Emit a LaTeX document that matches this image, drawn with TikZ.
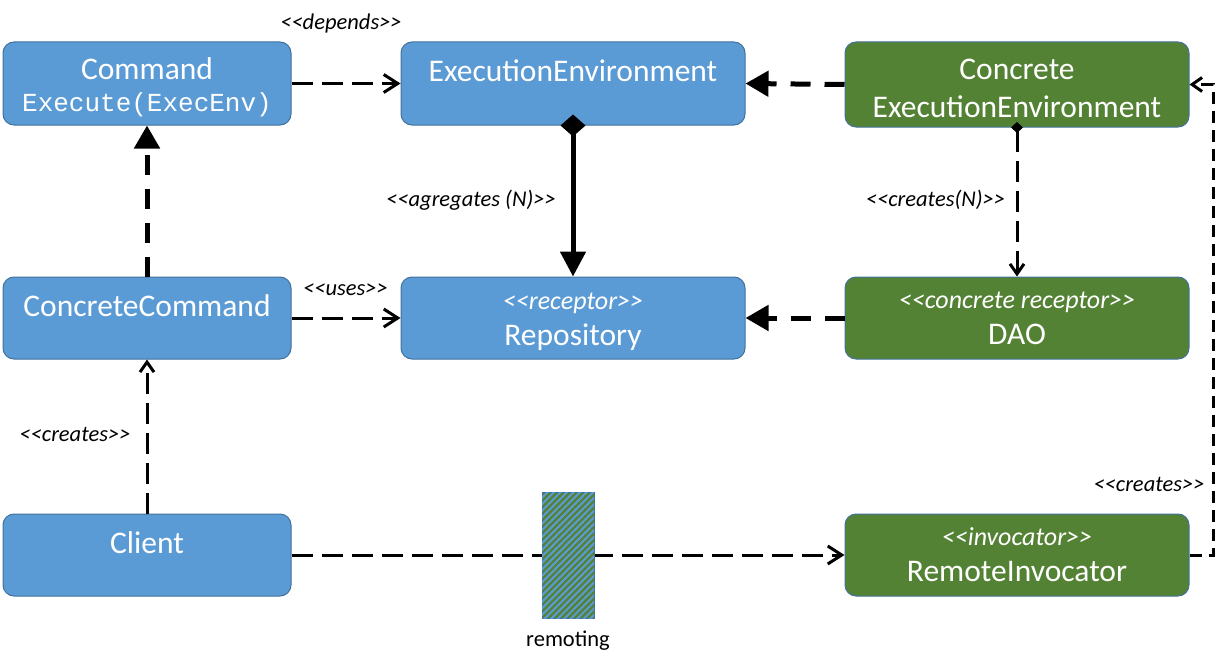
\documentclass[tikz,border=0pt]{standalone}
\usepackage{fontspec}
\setmainfont{Carlito}
\setmonofont{Liberation Mono}
\usetikzlibrary{arrows.meta,patterns.meta}
\definecolor{cblue}{HTML}{5B9BD5}
\definecolor{cgreen}{HTML}{548235}
\definecolor{cedge}{HTML}{41719C}
\newcommand\stereo[1]{{<}{<}#1{>}{>}}
\begin{document}
\begin{tikzpicture}[x=1pt,y=-1pt,
  box/.style={draw=cedge, line width=1pt, rounded corners=11pt, inner sep=0pt},
  bluebox/.style={box, fill=cblue},
  greenbox/.style={box, fill=cgreen},
  ntext/.style={text=white, font=\fontsize{31.5}{37}\selectfont, anchor=base, inner sep=0pt},
  stext/.style={text=white, font=\fontsize{26}{30}\selectfont\itshape, anchor=base, inner sep=0pt},
  mtext/.style={text=white, font=\fontsize{26}{30}\selectfont\ttfamily, anchor=base, inner sep=0pt},
  lbl/.style={font=\fontsize{22.5}{26}\selectfont\itshape, anchor=base, inner sep=0pt},
  dthin/.style={line width=3pt, dash pattern=on 21pt off 9pt},
  dshort/.style={line width=3pt, dash pattern=on 12pt off 7pt},
  dthick/.style={line width=5pt, dash pattern=on 20pt off 14pt},
  openhead/.style={-{Straight Barb[length=14pt,width=18pt]}},
  smallhead/.style={-{Straight Barb[length=10pt,width=14pt]}},
  filledhead/.style={-{Triangle[length=23pt,width=25pt]}},
]
\useasboundingbox (0,0) rectangle (1221,669);

% boxes
\node[bluebox, minimum width=288pt, minimum height=83pt] (cmd) at (147,83.5) {};
\node[bluebox, minimum width=344pt, minimum height=83pt] (ee) at (573,83.5) {};
\node[greenbox, minimum width=344pt, minimum height=85pt] (cee) at (1017,84.5) {};
\node[bluebox, minimum width=288pt, minimum height=82pt] (cc) at (147,318) {};
\node[bluebox, minimum width=344pt, minimum height=82pt] (repo) at (573,318) {};
\node[greenbox, minimum width=344pt, minimum height=82pt] (dao) at (1017,318) {};
\node[bluebox, minimum width=288pt, minimum height=82pt] (cl) at (147,555) {};
\node[greenbox, minimum width=344pt, minimum height=82pt] (ri) at (1017,555) {};

% texts
\node[ntext] (cmdT) at ([yshift=-38pt]cmd.north) {Command};
\node[mtext] (cmdM) at ([yshift=-70pt]cmd.north) {Execute(ExecEnv)};
\node[ntext] (eeT) at ([yshift=-40pt]ee.north) {ExecutionEnvironment};
\node[ntext] (ceeT1) at ([yshift=-38pt]cee.north) {Concrete};
\node[ntext] (ceeT2) at ([yshift=-76pt]cee.north) {ExecutionEnvironment};
\node[ntext] (ccT) at ([yshift=-40pt]cc.north) {ConcreteCommand};
\node[stext] (repoS) at ([yshift=-33pt]repo.north) {\stereo{receptor}};
\node[ntext] (repoT) at ([yshift=-69pt]repo.north) {Repository};
\node[stext] (daoS) at ([yshift=-32pt]dao.north) {\stereo{concrete receptor}};
\node[ntext] (daoT) at ([yshift=-68pt]dao.north) {DAO};
\node[ntext] (clT) at ([yshift=-40pt]cl.north) {Client};
\node[stext] (riS) at ([yshift=-32pt]ri.north) {\stereo{invocator}};
\node[ntext] (riT) at ([yshift=-68pt]ri.north) {RemoteInvocator};

% connectors
\draw[dthin, openhead] (cmd.east) -- (ee.west);
\draw[dthick, filledhead] (cee.west) -- (ee.east);
\draw[dthick, filledhead] (cc.north) -- (cmd.south);
\draw[dthin, openhead] (cc.east) -- (repo.west);
\draw[dthick, filledhead] (dao.west) -- (repo.east);
\draw[dthin, smallhead] (cl.north) -- (cc.south);
\draw[line width=5pt, {Diamond[length=22pt,width=25pt]}-{Triangle[length=25pt,width=25pt]}] ([yshift=11pt]ee.south) -- (repo.north);
\draw[dthin, {Diamond[length=11pt,width=12pt]}-{Straight Barb[length=10pt,width=14pt]}] ([yshift=5.5pt]cee.south) -- (dao.north);
\draw[dthin, openhead] (cl.east) -- (ri.west);
\coordinate (rc) at (1213,555);
\draw[dshort, smallhead] (ri.east) -- (rc) |- (cee.east);

% remoting
\node[draw=cedge, line width=1pt, fill=cgreen, minimum width=52pt, minimum height=126pt, inner sep=0pt,
  postaction={pattern={Lines[angle=45,distance=4.6pt,line width=2pt]}, pattern color=cblue}] (rem) at (568,555) {};

% labels
\node[lbl] (lDep) at (341,30) {\stereo{depends}};
\node[lbl] (lUse) at (345.5,295) {\stereo{uses}};
\node[lbl] (lCr1) at (75,441.5) {\stereo{creates}};
\node[lbl] (lAgg) at (471,206.5) {\stereo{agregates (N)}};
\node[lbl] (lCrN) at (935.5,206.5) {\stereo{creates(N)}};
\node[lbl] (lCr2) at (1149,491.5) {\stereo{creates}};
\node[font=\fontsize{22.5}{26}\selectfont, anchor=base, inner sep=0pt] (lRem) at (568,646.5) {remoting};
\end{tikzpicture}
\end{document}
